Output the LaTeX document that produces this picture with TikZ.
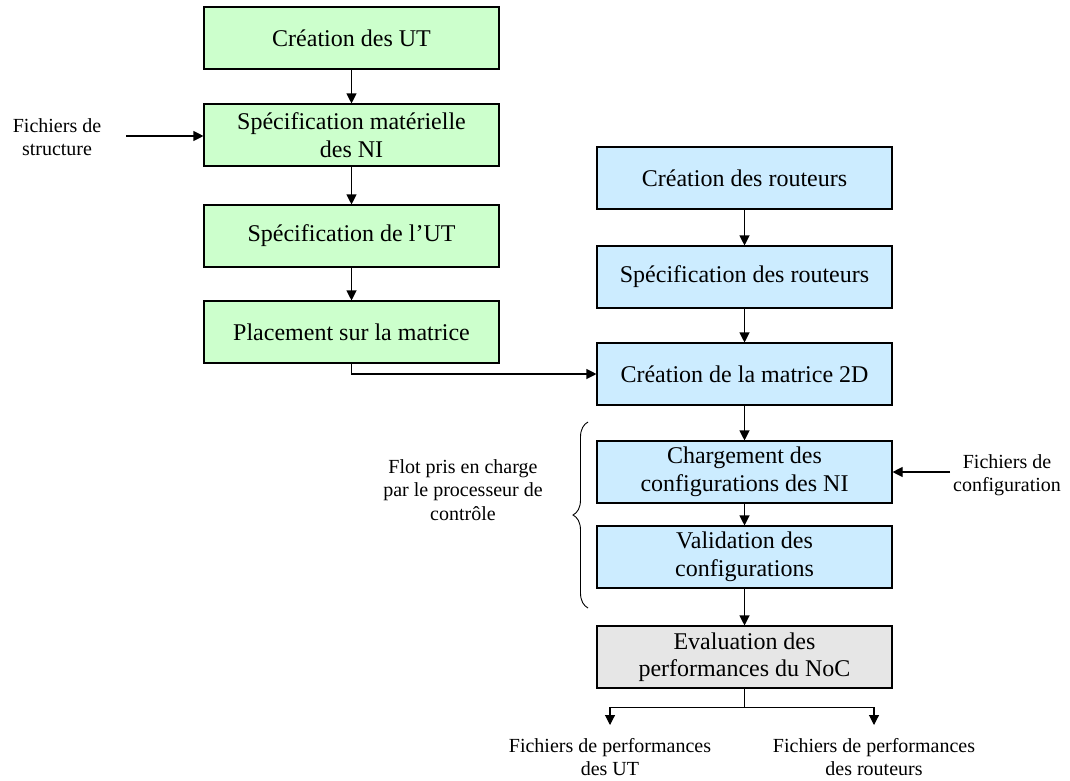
\documentclass[tikz,border=0pt]{standalone}
\usepackage{fontspec}
\setmainfont{Liberation Serif}
\usetikzlibrary{arrows.meta,decorations.pathreplacing}
\definecolor{gfill}{HTML}{CCFFCC}
\definecolor{bfill}{HTML}{CCECFF}
\definecolor{grfill}{HTML}{E6E6E6}
\tikzset{
  box/.style={draw=black, line width=1.1pt, minimum width=295pt, minimum height=62pt, inner sep=0pt, align=center, font=\fontsize{24}{27.5}\selectfont},
  gbox/.style={box, fill=gfill},
  bbox/.style={box, fill=bfill},
  greybox/.style={box, fill=grfill},
  lbl/.style={align=center, inner sep=0pt, font=\fontsize{20}{23.5}\selectfont},
  arr/.style={line width=1.1pt, -{Triangle[length=10pt,width=10pt]}},
  ln/.style={line width=1.1pt}
}
\begin{document}
\begin{tikzpicture}[x=1pt,y=-1pt]
\useasboundingbox (0,0) rectangle (1070,780);
% left column
\node[gbox] (g1) at (351.5,38) {Création des UT};
\node[gbox] (g2) at (351.5,135) {Spécification matérielle\\des NI};
\node[gbox] (g3) at (351.5,236) {Spécification de l’UT};
\node[gbox] (g4) at (351.5,332) {Placement sur la matrice};
% right column
\node[bbox] (b1) at (744.5,178) {Création des routeurs};
\node[bbox] (b2) at (744.5,277) {Spécification des routeurs};
\node[bbox] (b3) at (744.5,374) {Création de la matrice 2D};
\node[bbox] (b4) at (744.5,472) {Chargement des\\configurations des NI};
\node[bbox] (b5) at (744.5,557) {Validation des\\configurations};
\node[greybox] (b6) at (744.5,657) {Evaluation des\\performances du NoC};
% labels
\node[lbl] (fs) at (57,137) {Fichiers de\\structure};
\node[lbl] (cf) at (1007,475) {Fichiers de\\configuration};
\node[lbl] (fl) at (463,490) {Flot pris en charge\\par le processeur de\\contrôle};
\node[lbl] (o1) at (610,757) {Fichiers de performances\\des UT};
\node[lbl] (o2) at (874,757) {Fichiers de performances\\des routeurs};
\coordinate (fsend) at (126,136);
\coordinate (cfend) at (950,472);
\coordinate (t1) at (610,725);
\coordinate (t2) at (874,725);
% connectors
\draw[arr] (g1) -- (g2);
\draw[arr] (g2) -- (g3);
\draw[arr] (g3) -- (g4);
\draw[arr] (fsend) -- (fsend -| g2.west);
\draw[arr] (g4.south) |- (b3.west);
\draw[arr] (b1) -- (b2);
\draw[arr] (b2) -- (b3);
\draw[arr] (b3) -- (b4);
\draw[arr] (b4) -- (b5);
\draw[arr] (b5) -- (b6);
\draw[arr] (cfend) -- (b4.east);
\draw[arr] (b6.south) -- ++(0,19) -| (t1);
\draw[arr] (b6.south) -- ++(0,19) -| (t2);
% brace
\draw[line width=0.9pt, decorate, decoration={brace, amplitude=15pt}] (588,608) -- (588,422);
\end{tikzpicture}
\end{document}
